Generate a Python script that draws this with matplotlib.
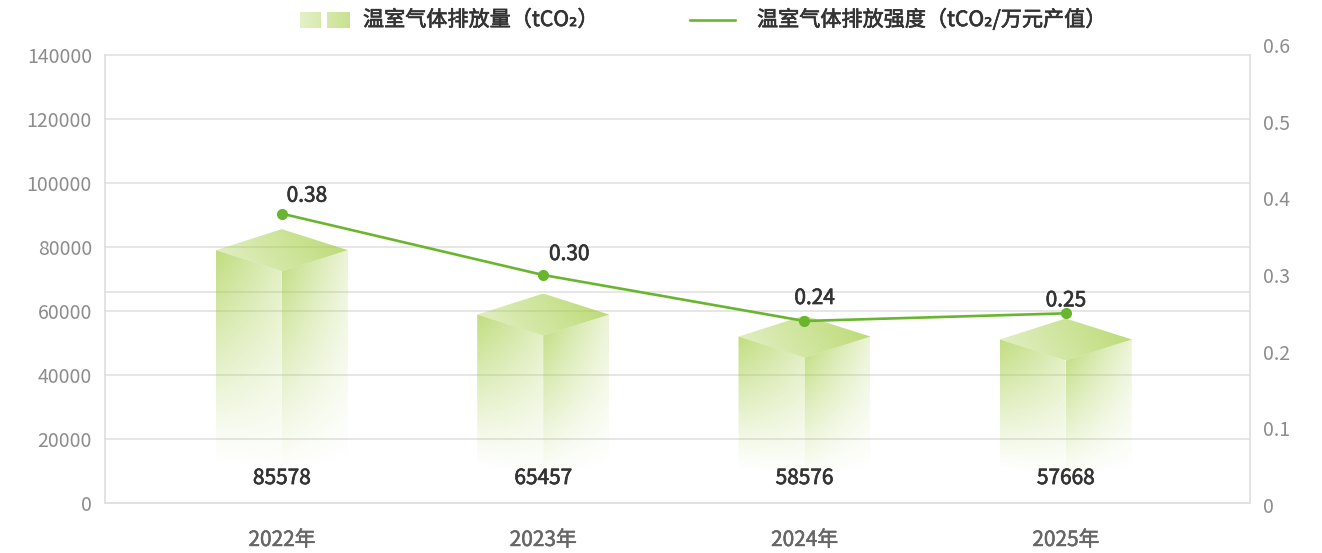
import numpy as np
import matplotlib
matplotlib.use("Agg")
import matplotlib.pyplot as plt
import matplotlib.patheffects as pe
from matplotlib.patches import Polygon
from matplotlib.lines import Line2D

plt.rcParams['font.family'] = ['Noto Sans CJK SC', 'DejaVu Sans']

# data
years = ['2022年', '2023年', '2024年', '2025年']
emissions = [85578, 65457, 58576, 57668]
intensity = [0.38, 0.30, 0.24, 0.25]
left_ticks = [0, 20000, 40000, 60000, 80000, 100000, 120000, 140000]
right_ticks = [0, 0.1, 0.2, 0.3, 0.4, 0.5, 0.6]
extra_grid = 66000

# label nudges (pixels) for the intensity labels
lbl_dx = [25, 26, 10, 0]
lbl_dy = [18, 21, 23, 13]

GREEN = np.array([165, 206, 70]) / 255
LINE = '#6ab52e'
W, H = 1322, 553
# fake a medium weight with a thin stroke
med = [pe.withStroke(linewidth=0.5, foreground='#333333')]


def box(x0, y0, x1, y1):
    return [x0 / W, 1 - y1 / H, (x1 - x0) / W, (y1 - y0) / H]


fig = plt.figure(figsize=(W / 100, H / 100), dpi=100)
ax = fig.add_axes(box(105, 55, 1250, 503))
ax2 = fig.add_axes(box(105, 45, 1250, 505))

xlim = (-0.677, 3.705)

# grid
for t in left_ticks + [extra_grid]:
    ax.axhline(t, color='#e4e4e4', lw=1.3, zorder=0, clip_on=False)


def fade(t):
    return np.clip(1 - t / 0.92, 0, 1) ** 1.1


def draw_face(poly, alpha_fn):
    xs = [p[0] for p in poly]
    ys = [p[1] for p in poly]
    x0, x1, y0, y1 = min(xs), max(xs), min(ys), max(ys)
    X, Y = np.meshgrid(np.linspace(x0, x1, 80), np.linspace(y0, y1, 300))
    img = np.zeros(X.shape + (4,))
    img[..., :3] = GREEN
    img[..., 3] = np.clip(alpha_fn(X, Y), 0, 1)
    im = ax.imshow(img, extent=(x0, x1, y0, y1), origin='lower', aspect='auto',
                   interpolation='bilinear', zorder=2)
    p = Polygon(poly, closed=True, fc='none', ec='none')
    ax.add_patch(p)
    im.set_clip_path(p)


# cube-like bars
w = 66 / 261.3      # half width (x data units)
d = 21 / 3.2 * 1000  # half height of the top diamond (y data units)
bs, bf = 7500, 3500  # bottom side / front

for i, v in enumerate(emissions):
    c = i
    ts, tf = v - d, v - 2 * d

    def left_a(X, Y, c=c, ts=ts):
        u = np.clip((X - (c - w)) / w, 0, 1)
        ytop = ts - d * u
        ybot = bs - (bs - bf) * u
        t = (ytop - Y) / (ytop - ybot)
        return (0.70 - 0.40 * u) * fade(t)

    def right_a(X, Y, c=c, tf=tf):
        u = np.clip((X - c) / w, 0, 1)
        ytop = tf + d * u
        ybot = bf + (bs - bf) * u
        t = (ytop - Y) / (ytop - ybot)
        return (0.64 - 0.42 * u) * fade(t)

    def top_a(X, Y, c=c, v=v):
        s = np.clip((X - (c - w)) / (2 * w), 0, 1)
        r = np.clip((Y - (v - 2 * d)) / (2 * d), 0, 1)
        return 0.30 + 0.38 * s + 0.08 * r

    draw_face([(c - w, ts), (c, tf), (c, bf), (c - w, bs)], left_a)
    draw_face([(c, tf), (c + w, ts), (c + w, bs), (c, bf)], right_a)
    draw_face([(c - w, ts), (c, v), (c + w, ts), (c, tf)], top_a)

    ax.text(c, 7800, str(v), ha='center', va='center', fontsize=15,
            color='#333333', zorder=4, path_effects=med)

ax.set_xlim(*xlim)
ax.set_ylim(0, 140000)
ax.set_yticks(left_ticks)
ax.set_yticklabels([str(t) for t in left_ticks])
ax.set_xticks(range(len(years)))
ax.set_xticklabels(years)
ax.tick_params(axis='y', length=0, pad=9.4, labelsize=14, labelcolor='#8c8c8c')
ax.tick_params(axis='x', length=0, pad=26.6, labelsize=15, labelcolor='#666666')
for t in ax.get_xticklabels():
    t.set_va('center')
    t.set_path_effects([pe.withStroke(linewidth=0.4, foreground='#666666')])
for s in ['left', 'right', 'bottom']:
    ax.spines[s].set_color('#e0e0e0')
    ax.spines[s].set_linewidth(1.3)
ax.spines['top'].set_visible(False)

# intensity on the right axis
ax2.patch.set_visible(False)
for s in ax2.spines.values():
    s.set_visible(False)
ax2.set_xlim(*xlim)
ax2.set_ylim(0, 0.6)
ax2.set_xticks([])
ax2.yaxis.tick_right()
ax2.set_yticks(right_ticks)
ax2.set_yticklabels(['0', '0.1', '0.2', '0.3', '0.4', '0.5', '0.6'])
ax2.tick_params(axis='y', length=0, pad=9.4, labelsize=14, labelcolor='#8c8c8c')

ax2.plot(range(len(intensity)), intensity, color=LINE, lw=1.9, marker='o', ms=7,
         zorder=5, clip_on=False)
for i, v in enumerate(intensity):
    ax2.annotate(f'{v:.2f}', (i, v), xytext=(lbl_dx[i] * 0.72, lbl_dy[i] * 0.72),
                 textcoords='offset points', ha='center', va='center', fontsize=15,
                 color='#333333', zorder=6, path_effects=med)

# legend
lg = fig.add_axes(box(300, 12, 350, 28))
lg.axis('off')
icon = np.ones((10, 50, 4))
icon[..., :3] = GREEN
icon[..., 3] = np.tile(np.linspace(0.3, 0.6, 50), (10, 1))
icon[:, 21:27, 3] = 0
lg.imshow(icon, aspect='auto', interpolation='bilinear')
fig.text(363 / W, 1 - 20 / H, '温室气体排放量（tCO₂）', ha='left', va='center',
         fontsize=15.2, color='#333333', path_effects=med)
fig.add_artist(Line2D([690 / W, 735 / W], [1 - 20 / H] * 2, color=LINE, lw=1.9))
fig.text(757 / W, 1 - 20 / H, '温室气体排放强度（tCO₂/万元产值）', ha='left', va='center',
         fontsize=15.2, color='#333333', path_effects=med)

fig.savefig('out.png', dpi=100)
